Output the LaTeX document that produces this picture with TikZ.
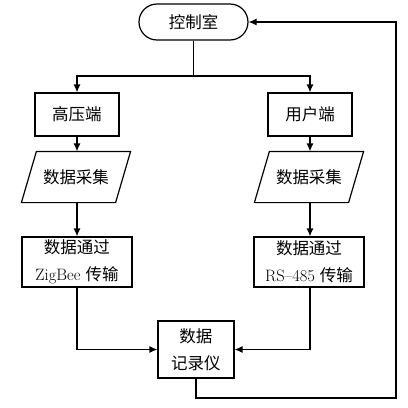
\documentclass[tikz,border=0pt]{standalone}
\usepackage{fontspec}
\newfontfamily\cjk{Noto Sans CJK SC}
\usetikzlibrary{arrows.meta,calc}
\begin{document}
\begin{tikzpicture}[x=1pt,y=-1pt,line width=1.2pt,
  >={Latex[length=8pt,width=7pt]},
  txt/.style={font=\fontsize{16.5}{27}\selectfont, align=center, inner sep=0pt},
  ctrlbox/.style={txt, draw, rounded corners=18pt, minimum width=109pt, minimum height=36pt},
  procbox/.style={txt, draw, minimum width=84pt, minimum height=43pt},
  widebox/.style={txt, draw, minimum width=110pt, minimum height=50pt},
  recbox/.style={txt, draw, minimum width=76pt, minimum height=57pt},
  iotext/.style={txt, minimum width=93pt, minimum height=50pt}]
\useasboundingbox (0,0) rectangle (408,408);
\node[ctrlbox] (ctrl) at (193.5,22) {\cjk 控制室};
\node[procbox] (hv) at (77,114.5) {\cjk 高压端};
\node[procbox] (us) at (310,114.5) {\cjk 用户端};
\node[iotext] (pl) at (76,177) {\cjk 数据采集};
\node[iotext] (pr) at (309,177) {\cjk 数据采集};
\node[widebox] (zb) at (77,262) {{\cjk 数据通过}\\ZigBee {\cjk 传输}};
\node[widebox] (rs) at (309,262) {{\cjk 数据通过}\\RS--485 {\cjk 传输}};
\node[recbox] (rec) at (196,349.5) {\cjk 数据\\\cjk 记录仪};
\foreach \p in {pl,pr}{
  \draw ($(\p.north west)+(7.5,0)$) -- ($(\p.north east)+(7.5,0)$)
        -- ($(\p.south east)+(-7.5,0)$) -- ($(\p.south west)+(-7.5,0)$) -- cycle;
}
\coordinate (bm) at (193.5,76);
\coordinate (c2) at (396,398);
\draw (ctrl.south) -- (bm);
\draw[->] (bm) -| (hv.north);
\draw[->] (bm) -| (us.north);
\draw[->] (hv.south) -- (hv.south |- pl.north);
\draw[->] (us.south) -- (us.south |- pr.north);
\draw[->] (hv.south |- pl.south) -- (zb.north);
\draw[->] (us.south |- pr.south) -- (us.south |- rs.north);
\draw[->] (zb.south) |- (rec.west);
\draw[->] (us.south |- rs.south) |- (rec.east);
\draw[->] (rec.south) |- (c2) |- (ctrl.east);
\end{tikzpicture}
\end{document}
